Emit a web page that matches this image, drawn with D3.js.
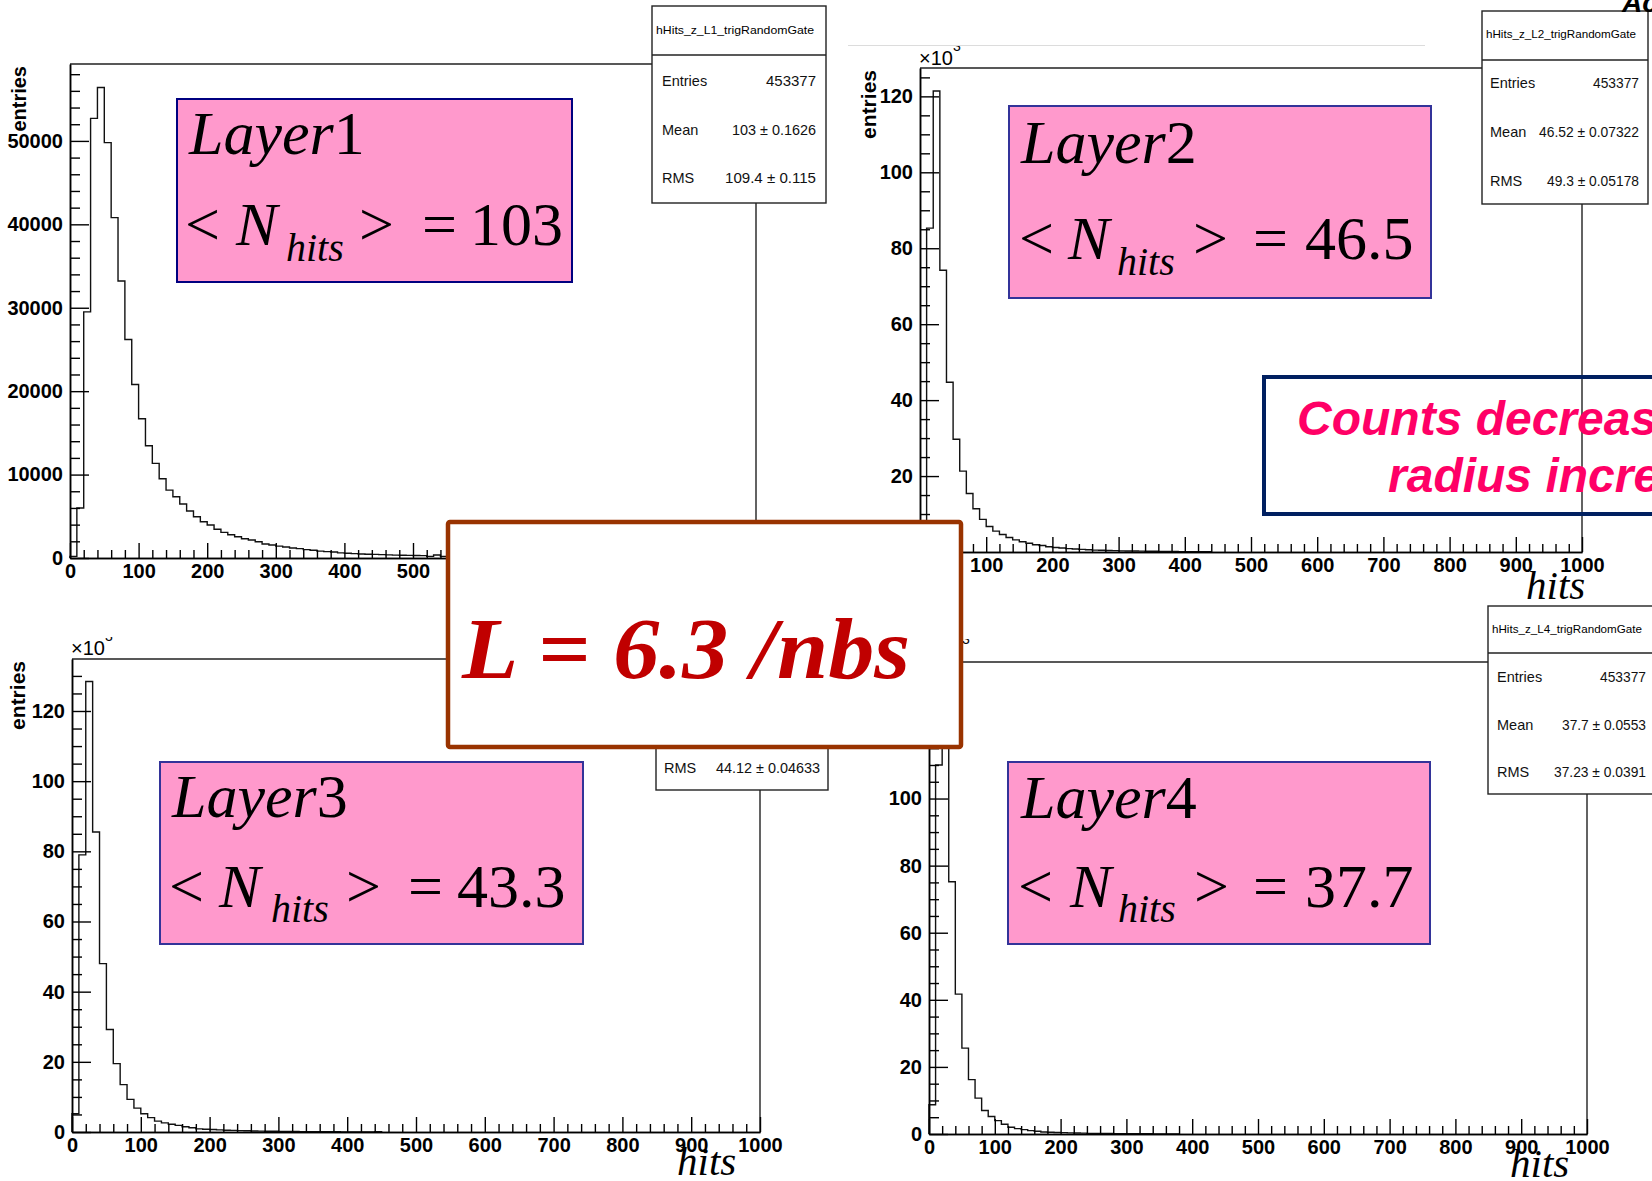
<!DOCTYPE html>
<html>
<head>
<meta charset="utf-8">
<script src="https://cdn.jsdelivr.net/npm/d3@7"></script>
<style>
  html, body { margin: 0; padding: 0; background: #fff; }
  svg { display: block; }
</style>
</head>
<body>
<svg id="chart" width="1652" height="1181"></svg>
<script>
// ---- histogram contents: hits per event, 10-hit bins starting at 0 ----
const binWidth = 10;
const xMax = 1000;

// Layer 1, raw entries
const hitsL1 = [200, 6000, 29500, 52700, 56400, 49800, 40800, 33200, 26200, 20800,
  16700, 13450, 11340, 9500, 8140, 7340, 6470, 5630, 4950, 4350,
  3950, 3440, 3070, 2790, 2550, 2310, 2150, 1950, 1680, 1560,
  1420, 1320, 1200, 1120, 1000, 930, 820, 770, 720, 620,
  570, 530, 480, 450, 430, 400, 370, 350, 330, 310,
  300, 290, 200, 360, 200, 180];

// Layers 2-4, entries in units of 10^3
const hitsL2 = [3, 85.3, 121.4, 74.2, 44.7, 29.7, 21.3, 15.4, 11.4, 8.6,
  6.7, 5.5, 4.6, 3.8, 3.2, 2.7, 2.3, 1.9, 1.7, 1.4,
  1.2, 1.05, 0.9, 0.8, 0.7, 0.6, 0.5, 0.45, 0.4, 0.35,
  0.3, 0.28, 0.25, 0.22, 0.2, 0.18, 0.16, 0.14, 0.12, 0.1,
  0.09, 0.08, 0.07, 0.06];
const hitsL3 = [5.2, 79, 128.4, 85.5, 48, 29.2, 19.5, 13.5, 9.3, 6.8,
  5.2, 4.1, 3.1, 2.6, 2.2, 1.9, 1.5, 1.2, 0.9, 0.8,
  0.7, 0.6, 0.5, 0.45, 0.4, 0.35, 0.3, 0.25, 0.22, 0.2,
  0.18, 0.16, 0.14, 0.12, 0.1, 0.09, 0.08, 0.07, 0.06, 0.05,
  0.05, 0, 0, 0, 0.1];
const hitsL4 = [8.7, 110, 134, 75.2, 41.7, 25.6, 16.2, 10.7, 7.0, 5.2,
  4.0, 2.9, 2.0, 1.6, 1.3, 1.0, 0.8, 0.6, 0.5, 0.45,
  0.4, 0.35, 0.3, 0.25, 0.2, 0.18, 0.16, 0.14, 0.12, 0.1,
  0.09, 0.08, 0.07, 0.06, 0.05, 0.05, 0.04, 0.04];

// ---- axis tick values ----
const xTicksMajor = [0, 100, 200, 300, 400, 500, 600, 700, 800, 900, 1000];
const yTicksL1 = [0, 10000, 20000, 30000, 40000, 50000];
const yTicksK = [0, 20, 40, 60, 80, 100, 120, 140];

// ---- statistics boxes ----
const statTitles = ["hHits_z_L1_trigRandomGate", "hHits_z_L2_trigRandomGate", "hHits_z_L3_trigRandomGate", "hHits_z_L4_trigRandomGate"];
const statEntries = ["453377", "453377", null, "453377"];
const statMeans = ["103 \u00b1 0.1626", "46.52 \u00b1 0.07322", null, "37.7 \u00b1 0.0553"];
const statRMS = ["109.4 \u00b1  0.115", "49.3 \u00b1 0.05178", "44.12 \u00b1 0.04633", "37.23 \u00b1 0.0391"];

// ---- annotations ----
const layerDigits = ["1", "2", "3", "4"];
const layerMeans = ["103", "46.5", "43.3", "37.7"];
const lumiText = "L = 6.3 /nbs";
const noteLines = ["Counts decrease as", "radius increases"];

const SANS = "'Liberation Sans', Arial, Helvetica, sans-serif";
const SERIF = "'Liberation Serif', 'Times New Roman', Times, serif";

const svg = d3.select("#chart");
svg.append("rect").attr("width", 1652).attr("height", 1181).attr("fill", "#fff");
const defs = svg.append("defs");

// faint rule above the upper-right pad
svg.append("line").attr("x1", 848).attr("x2", 1425).attr("y1", 45.5).attr("y2", 45.5)
  .attr("stroke", "#dcdcdc").attr("stroke-width", 1);

// pad geometry
const pads = [
  { values: hitsL1, x0: 70, x1: 756, y0: 558, y1: 64, topEnd: 652, rightFrom: 203,
    yMajor: yTicksL1, yMinorStep: 2000, scaled: false,
    entries: { x: 26, top: 66, fs: 20 }, hits: { x: 690, y: 606 } },
  { values: hitsL2, x0: 920, x1: 1582, y0: 552, y1: 68, topEnd: 1482, rightFrom: 204,
    yMajor: yTicksK, yMinorStep: 5, scaled: true, expo: { x: 919, y: 65, clip: 46 },
    entries: { x: 876, top: 70, fs: 21 }, hits: { x: 1526, y: 599 } },
  { values: hitsL3, x0: 72, x1: 760, y0: 1132, y1: 659, topEnd: 656, rightFrom: 790,
    yMajor: yTicksK, yMinorStep: 5, scaled: true, expo: { x: 71, y: 655, clip: 637 },
    entries: { x: 25, top: 661, fs: 21 }, hits: { x: 677, y: 1175 } },
  { values: hitsL4, x0: 929, x1: 1587, y0: 1134, y1: 662, topEnd: 1488, rightFrom: 794,
    yMajor: yTicksK, yMinorStep: 5, scaled: true, expo: { x: 928, y: 658, clip: 639 },
    entries: { x: 880, top: 664, fs: 21 }, hits: { x: 1510, y: 1177 } }
];

function styleAxisText(sel, size) {
  sel.attr("font-family", null).attr("font-size", null);
  sel.selectAll("text")
    .attr("font-family", SANS).attr("font-size", size).attr("font-weight", "bold").attr("fill", "#000");
  sel.selectAll("line").attr("stroke", "#000").attr("stroke-width", 1.4);
  sel.selectAll("path.domain").attr("stroke", "#000").attr("stroke-width", 1.5);
}

pads.forEach((p, idx) => {
  const g = svg.append("g").attr("class", "pad");
  const x = d3.scaleLinear().domain([0, xMax]).range([p.x0, p.x1]);
  const yTop = d3.max(p.values) * 1.05;
  const y = d3.scaleLinear().domain([0, yTop]).range([p.y0, p.y1]);

  // frame: top edge up to the stats box, right edge below it
  g.append("path")
    .attr("d", `M${p.x0},${p.y1}H${p.topEnd}M${p.x1},${p.rightFrom}V${p.y0}`)
    .attr("fill", "none").attr("stroke", "#222").attr("stroke-width", 1.4);

  // histogram outline
  const pts = [[0, 0]].concat(p.values.map((v, i) => [i * binWidth, v]));
  pts.push([p.values.length * binWidth, p.values[p.values.length - 1]]);
  pts.push([p.values.length * binWidth, 0]);
  const step = d3.line().x(d => x(d[0])).y(d => y(d[1])).curve(d3.curveStepAfter);
  g.append("path").attr("d", step(pts))
    .attr("fill", "none").attr("stroke", "#111").attr("stroke-width", 1.4);

  // y axis: major + minor ticks pointing into the pad
  const yMinor = d3.range(0, yTop, p.yMinorStep).filter(v => !p.yMajor.includes(v));
  const yMajorIn = p.yMajor.filter(v => v <= yTop);
  const gyMinor = g.append("g").attr("transform", `translate(${p.x0},0)`)
    .call(d3.axisLeft(y).tickValues(yMinor).tickSize(-10).tickSizeOuter(0).tickFormat(""));
  styleAxisText(gyMinor, 20);
  const gy = g.append("g").attr("transform", `translate(${p.x0},0)`)
    .call(d3.axisLeft(y).tickValues(yMajorIn).tickSize(-19).tickSizeOuter(0).tickPadding(7).tickFormat(d3.format("d")));
  styleAxisText(gy, 20);

  // x axis: major every 100, minor every 20
  const xMinor = d3.range(0, xMax + 1, 20).filter(v => !xTicksMajor.includes(v));
  const gxMinor = g.append("g").attr("transform", `translate(0,${p.y0})`)
    .call(d3.axisBottom(x).tickValues(xMinor).tickSize(-8).tickSizeOuter(0).tickFormat(""));
  styleAxisText(gxMinor, 20);
  const gx = g.append("g").attr("transform", `translate(0,${p.y0})`)
    .call(d3.axisBottom(x).tickValues(xTicksMajor).tickSize(-15).tickSizeOuter(0).tickPadding(6).tickFormat(d3.format("d")));
  styleAxisText(gx, 20);

  // axis titles
  g.append("text")
    .attr("transform", `translate(${p.entries.x},${p.entries.top}) rotate(-90)`)
    .attr("text-anchor", "end")
    .attr("font-family", SANS).attr("font-size", p.entries.fs).attr("font-weight", "bold")
    .text("entries");
  g.append("text")
    .attr("x", p.hits.x).attr("y", p.hits.y)
    .attr("font-family", SERIF).attr("font-style", "italic").attr("font-size", 41)
    .text("hits");

  // axis exponent label for pads drawn in thousands
  if (p.scaled) {
    const cid = "expClip" + idx;
    defs.append("clipPath").attr("id", cid)
      .append("rect").attr("x", p.expo.x - 5).attr("y", p.expo.clip).attr("width", 80).attr("height", 40);
    const t = g.append("text").attr("clip-path", `url(#${cid})`)
      .attr("x", p.expo.x).attr("y", p.expo.y)
      .attr("font-family", SANS).attr("font-size", 20);
    t.append("tspan").text("\u00d710");
    t.append("tspan").attr("font-size", 14).attr("dy", -14).text("3");
  }
});

// ---- statistics boxes ----
const statBoxes = [
  { x: 652, y: 6, w: 174, h: 197, sep: 55, titleY: 34, titleLen: 158, lx: 662, vr: 816,
    rows: [81, 130, 178], vLen: [50, 84, 91] },
  { x: 1482, y: 11, w: 166, h: 193, sep: 60, titleY: 38, titleLen: 150, lx: 1490, vr: 1639,
    rows: [83, 132, 181], vLen: [46, 100, 92] },
  { x: 656, y: 593, w: 172, h: 197, sep: null, lx: 664, vr: 820,
    rows: [668, 718, 768], vLen: [null, null, 104] },
  { x: 1488, y: 606, w: 200, h: 188, sep: 653, titleY: 633, titleLen: 150, lx: 1497, vr: 1646,
    rows: [677, 725, 772], vLen: [46, 84, 92] }
];

statBoxes.forEach((b, i) => {
  const g = svg.append("g").attr("class", "stats");
  g.append("rect").attr("x", b.x).attr("y", b.y).attr("width", b.w).attr("height", b.h)
    .attr("fill", "#fff").attr("stroke", "#222").attr("stroke-width", 1.4);
  if (b.sep !== null) {
    g.append("line").attr("x1", b.x).attr("x2", b.x + b.w).attr("y1", b.sep).attr("y2", b.sep)
      .attr("stroke", "#222").attr("stroke-width", 1.4);
    g.append("text").attr("x", b.x + 4).attr("y", b.titleY)
      .attr("font-family", SANS).attr("font-size", 11.5)
      .attr("textLength", b.titleLen).attr("lengthAdjust", "spacingAndGlyphs")
      .text(statTitles[i]);
  }
  const labels = ["Entries", "Mean", "RMS"];
  const values = [statEntries[i], statMeans[i], statRMS[i]];
  labels.forEach((lab, r) => {
    if (values[r] === null) return;
    g.append("text").attr("x", b.lx).attr("y", b.rows[r] + 5)
      .attr("font-family", SANS).attr("font-size", 14.5).attr("fill", "#111")
      .text(lab);
    g.append("text").attr("x", b.vr - b.vLen[r]).attr("y", b.rows[r] + 5)
      .attr("font-family", SANS).attr("font-size", 14.5).attr("fill", "#111")
      .attr("textLength", b.vLen[r]).attr("lengthAdjust", "spacingAndGlyphs")
      .text(values[r]);
  });
});

// ---- pink layer labels ----
const layerBoxes = [
  { x0: 177, y0: 99, x1: 572, y1: 282, stroke: "#000080", l1: 154, lx: 189, l2: 245, sub: 261,
    px: [185, 236, 286, 359, 422, 470] },
  { x0: 1009, y0: 106, x1: 1431, y1: 298, stroke: "#333399", l1: 163, lx: 1021, l2: 259, sub: 275,
    px: [1019, 1068, 1117, 1193, 1253, 1305] },
  { x0: 160, y0: 762, x1: 583, y1: 944, stroke: "#333399", l1: 817, lx: 172, l2: 907, sub: 922,
    px: [169, 219, 271, 346, 408, 457] },
  { x0: 1008, y0: 762, x1: 1430, y1: 944, stroke: "#333399", l1: 818, lx: 1021, l2: 907, sub: 922,
    px: [1018, 1070, 1118, 1194, 1253, 1305] }
];

layerBoxes.forEach((b, i) => {
  const g = svg.append("g").attr("class", "layer-label");
  g.append("rect").attr("x", b.x0).attr("y", b.y0).attr("width", b.x1 - b.x0).attr("height", b.y1 - b.y0)
    .attr("fill", "#ff99cc").attr("stroke", b.stroke).attr("stroke-width", 2);
  const t1 = g.append("text").attr("x", b.lx).attr("y", b.l1)
    .attr("font-family", SERIF).attr("font-size", 62).attr("fill", "#000");
  t1.append("tspan").attr("font-style", "italic").text("Layer");
  t1.append("tspan").text(layerDigits[i]);

  const piece = (x, y, s, size, italic) => g.append("text").attr("x", x).attr("y", y)
    .attr("font-family", SERIF).attr("font-size", size).attr("fill", "#000")
    .attr("font-style", italic ? "italic" : "normal").text(s);
  piece(b.px[0], b.l2, "<", 62, false);
  piece(b.px[1], b.l2, "N", 62, true);
  piece(b.px[2], b.sub, "hits", 40, true);
  piece(b.px[3], b.l2, ">", 62, false);
  piece(b.px[4], b.l2, "=", 62, false);
  piece(b.px[5], b.l2, layerMeans[i], 62, false);
});

// ---- note box on the right ----
const note = svg.append("g").attr("class", "note");
note.append("rect").attr("x", 1264).attr("y", 377).attr("width", 460).attr("height", 137)
  .attr("fill", "none").attr("stroke", "#002060").attr("stroke-width", 4);
note.append("text").attr("x", 1297).attr("y", 435)
  .attr("font-family", SANS).attr("font-size", 48).attr("font-weight", "bold").attr("font-style", "italic")
  .attr("fill", "#ff0066").text(noteLines[0]);
note.append("text").attr("x", 1388).attr("y", 492)
  .attr("font-family", SANS).attr("font-size", 48).attr("font-weight", "bold").attr("font-style", "italic")
  .attr("fill", "#ff0066").text(noteLines[1]);

// ---- luminosity box in the middle ----
const lumi = svg.append("g").attr("class", "lumi");
lumi.append("rect").attr("x", 448).attr("y", 522).attr("width", 513).attr("height", 225).attr("rx", 2)
  .attr("fill", "#fff").attr("stroke", "#993300").attr("stroke-width", 4.5);
lumi.append("text").attr("x", 462).attr("y", 678)
  .attr("font-family", SERIF).attr("font-size", 86).attr("font-weight", "bold").attr("font-style", "italic")
  .attr("fill", "#c00000").attr("textLength", 448).attr("lengthAdjust", "spacingAndGlyphs")
  .text(lumiText);

// heading fragment at the top-right corner
svg.append("text").attr("x", 1622).attr("y", 12)
  .attr("font-family", SANS).attr("font-size", 28).attr("font-weight", "bold").attr("font-style", "italic")
  .text("Ac");
</script>
</body>
</html>
